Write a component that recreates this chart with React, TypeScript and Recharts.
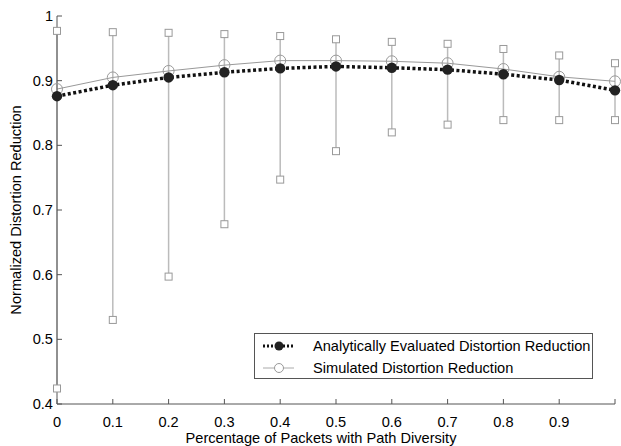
import React from 'react';
import { ComposedChart, Line, XAxis, YAxis, ErrorBar, Label } from 'recharts';

// x positions (fraction of packets with path diversity)
const fractions = [0, 0.1, 0.2, 0.3, 0.4, 0.5, 0.6, 0.7, 0.8, 0.9, 1.0];
const analytic = [0.876, 0.893, 0.905, 0.913, 0.919, 0.922, 0.920, 0.917, 0.910, 0.901, 0.885];
const simulated = [0.887, 0.905, 0.915, 0.924, 0.931, 0.931, 0.930, 0.927, 0.918, 0.906, 0.899];
const simMax = [0.977, 0.975, 0.974, 0.972, 0.969, 0.964, 0.960, 0.957, 0.949, 0.939, 0.927];
const simMin = [0.424, 0.530, 0.597, 0.678, 0.747, 0.791, 0.820, 0.832, 0.839, 0.839, 0.839];

const xTicks = [0, 0.1, 0.2, 0.3, 0.4, 0.5, 0.6, 0.7, 0.8, 0.9, 1.0];
const yTicks = [0.4, 0.5, 0.6, 0.7, 0.8, 0.9, 1];

const seriesNames = ['Analytically Evaluated Distortion Reduction', 'Simulated Distortion Reduction'];

const data = fractions.map((f, i) => ({
  x: f,
  analytic: analytic[i],
  simulated: simulated[i],
  max: simMax[i],
  min: simMin[i],
  err: [simulated[i] - simMin[i], simMax[i] - simulated[i]],
}));

const FONT = '"Liberation Sans", Arial, Helvetica, sans-serif';
const AXIS = '#555';
const FS = 14.6;

const XTick = (props: any) => {
  const { x, y, payload } = props;
  const v = payload.value;
  return (
    <g>
      <line x1={x} x2={x} y1={y} y2={y - 5} stroke={AXIS} strokeWidth={1} />
      {v < 1 && (
        <text x={x} y={y + 23} textAnchor="middle" fontSize={FS} fill="#000" fontFamily={FONT}>
          {v === 0 ? '0' : v.toFixed(1)}
        </text>
      )}
    </g>
  );
};

const YTick = (props: any) => {
  const { x, y, payload } = props;
  const v = payload.value;
  return (
    <g>
      <line x1={x} x2={x + 5} y1={y} y2={y} stroke={AXIS} strokeWidth={1} />
      <text x={x - 4} y={y + 5} textAnchor="end" fontSize={FS} fill="#000" fontFamily={FONT}>
        {v === 1 ? '1' : v.toFixed(1)}
      </text>
    </g>
  );
};

const Square = (props: any) => {
  const { cx, cy } = props;
  if (cx == null || cy == null) return null;
  return <rect x={cx - 3.5} y={cy - 3.5} width={7} height={7} fill="#fff" stroke="#999" strokeWidth={1} />;
};

const LegendBox = () => (
  <div
    style={{
      position: 'absolute',
      left: 254,
      top: 333,
      width: 337,
      height: 44,
      border: '1px solid #555',
      background: '#fff',
      fontFamily: FONT,
      fontSize: FS,
      color: '#000',
    }}
  >
    <div style={{ display: 'flex', alignItems: 'center', height: 22, marginTop: 1 }}>
      <svg width={58} height={22}>
        <line x1={8} x2={39} y1={11} y2={11} stroke="#111" strokeWidth={3} strokeDasharray="2 2" />
        <circle cx={24} cy={11} r={4.5} fill="#222" />
      </svg>
      <span>{seriesNames[0]}</span>
    </div>
    <div style={{ display: 'flex', alignItems: 'center', height: 22 }}>
      <svg width={58} height={22}>
        <line x1={8} x2={39} y1={11} y2={11} stroke="#aaa" strokeWidth={1} />
        <circle cx={24} cy={11} r={4.5} fill="#fff" stroke="#999" strokeWidth={1} />
      </svg>
      <span>{seriesNames[1]}</span>
    </div>
  </div>
);

const App: React.FC = () => {
  return (
    <div style={{ position: 'absolute', left: 0, top: 0, width: 621, height: 446, background: '#fff' }}>
      <ComposedChart width={621} height={446} data={data} margin={{ top: 16, right: 6, bottom: 0, left: 0 }}>
        <XAxis
          dataKey="x"
          type="number"
          domain={[0, 1]}
          ticks={xTicks}
          height={42}
          tickSize={0}
          tickMargin={0}
          tickLine={false}
          stroke={AXIS}
          tick={<XTick />}
          interval={0}
        >
          <Label
            value="Percentage of Packets with Path Diversity"
            position="insideBottom"
            offset={3}
            dx={-15}
            style={{ fontSize: FS, fill: '#000', fontFamily: FONT }}
          />
        </XAxis>
        <YAxis
          type="number"
          domain={[0.4, 1]}
          ticks={yTicks}
          width={57}
          tickSize={0}
          tickMargin={0}
          tickLine={false}
          stroke={AXIS}
          tick={<YTick />}
          interval={0}
        >
          <Label
            value="Normalized Distortion Reduction"
            angle={-90}
            position="insideLeft"
            offset={16}
            style={{ textAnchor: 'middle', fontSize: FS, fill: '#000', fontFamily: FONT }}
          />
        </YAxis>
        <Line
          dataKey="simulated"
          name={seriesNames[1]}
          stroke="#999"
          strokeWidth={1}
          dot={{ r: 5.5, fill: 'none', stroke: '#999', strokeWidth: 1 }}
          isAnimationActive={false}
        >
          <ErrorBar dataKey="err" width={0} stroke="#bbb" strokeWidth={1.5} direction="y" />
        </Line>
        <Line dataKey="max" stroke="none" dot={<Square />} legendType="none" isAnimationActive={false} />
        <Line dataKey="min" stroke="none" dot={<Square />} legendType="none" isAnimationActive={false} />
        <Line
          dataKey="analytic"
          name={seriesNames[0]}
          stroke="#111"
          strokeWidth={3.5}
          strokeDasharray="3 2.5"
          dot={{ r: 5.2, fill: '#222', stroke: '#222', strokeWidth: 0 }}
          isAnimationActive={false}
        />
      </ComposedChart>
      <LegendBox />
    </div>
  );
};

export default App;
